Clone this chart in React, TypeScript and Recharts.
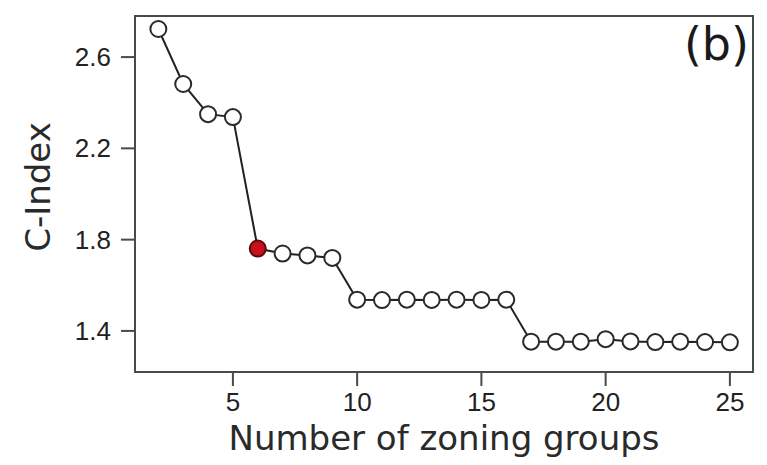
import { Label, Line, LineChart, ReferenceArea, XAxis, YAxis } from "recharts"

// number of zoning groups vs. C-Index
const groups = [2, 3, 4, 5, 6, 7, 8, 9, 10, 11, 12, 13, 14, 15, 16, 17, 18, 19, 20, 21, 22, 23, 24, 25]
const cIndex = [
  2.723, 2.482, 2.35, 2.337, 1.761, 1.739, 1.731, 1.72, 1.537, 1.535, 1.537, 1.536, 1.537, 1.536, 1.537,
  1.353, 1.353, 1.353, 1.364, 1.354, 1.351, 1.353, 1.351, 1.35,
]
const xTicks = [5, 10, 15, 20, 25]
const yTicks = [1.4, 1.8, 2.2, 2.6]
const selectedGroups = 6

const X_DOMAIN: [number, number] = [1.06, 25.93]
const Y_DOMAIN: [number, number] = [1.22, 2.78]

const data = groups.map((g, i) => ({ groups: g, cIndex: cIndex[i] }))

const AXIS_COLOR = "#4a4a4a"
const TICK_FAMILY = "Liberation Sans, Arial, sans-serif"
const TICK_SIZE = 26
const TITLE_FONT = "DejaVu Sans, Verdana, sans-serif"

type TickProps = { x?: number; y?: number; payload?: { value: number } }

function XTick({ x = 0, y = 0, payload }: TickProps) {
  return (
    <text x={x} y={y + 19} textAnchor="middle" fontSize={TICK_SIZE} fontFamily={TICK_FAMILY} fill="#222">
      {payload?.value}
    </text>
  )
}

function YTick({ x = 0, y = 0, payload }: TickProps) {
  return (
    <text x={x} y={y + 9} textAnchor="end" fontSize={TICK_SIZE} fontFamily={TICK_FAMILY} fill="#222">
      {Number(payload?.value).toFixed(1)}
    </text>
  )
}

function Dot(props: { cx?: number; cy?: number; payload?: { groups: number } }) {
  const { cx, cy, payload } = props
  if (cx === undefined || cy === undefined) return null
  const picked = payload?.groups === selectedGroups
  return (
    <circle
      key={`dot-${payload?.groups}`}
      cx={cx}
      cy={cy}
      r={8}
      fill={picked ? "#c8101a" : "#fff"}
      stroke={picked ? "#5a0a0a" : "#2a2a2a"}
      strokeWidth={2}
    />
  )
}

export default function App() {
  return (
    <div style={{ position: "absolute", left: 0, top: 0, width: 767, height: 465, background: "#fff" }}>
      <LineChart width={767} height={465} data={data} margin={{ top: 16, right: 14, bottom: 0, left: 0 }}>
        <ReferenceArea
          x1={X_DOMAIN[0]}
          x2={X_DOMAIN[1]}
          y1={Y_DOMAIN[0]}
          y2={Y_DOMAIN[1]}
          fill="none"
          stroke={AXIS_COLOR}
          strokeWidth={2}
          ifOverflow="visible"
        />
        <XAxis
          dataKey="groups"
          type="number"
          domain={X_DOMAIN}
          ticks={xTicks}
          height={93}
          tickSize={14}
          tickMargin={6}
          stroke={AXIS_COLOR}
          strokeWidth={2}
          tick={<XTick />}
          allowDataOverflow
        >
          <Label
            content={(props: unknown) => {
              const { viewBox } = props as { viewBox?: { x: number; width: number } }
              const cx = viewBox ? viewBox.x + viewBox.width / 2 : 444
              return (
                <text x={cx} y={450} textAnchor="middle" fontSize={34} fontFamily={TITLE_FONT} fill="#2a2a2a">
                  Number of zoning groups
                </text>
              )
            }}
          />
        </XAxis>
        <YAxis
          type="number"
          domain={Y_DOMAIN}
          ticks={yTicks}
          width={135}
          tickSize={14}
          tickMargin={10}
          stroke={AXIS_COLOR}
          strokeWidth={2}
          tick={<YTick />}
          allowDataOverflow
        >
          <Label
            content={() => (
              <text
                x={50}
                y={187}
                textAnchor="middle"
                fontSize={34}
                fontFamily={TITLE_FONT}
                fill="#2a2a2a"
                transform="rotate(-90, 50, 187)"
              >
                C-Index
              </text>
            )}
          />
        </YAxis>
        <Line
          type="linear"
          dataKey="cIndex"
          stroke="#222"
          strokeWidth={2}
          dot={<Dot />}
          activeDot={false}
          isAnimationActive={false}
        />
        <text x={749} y={60} textAnchor="end" fontSize={46} fontFamily={TITLE_FONT} fill="#1a1a1a">
          (b)
        </text>
      </LineChart>
    </div>
  )
}
